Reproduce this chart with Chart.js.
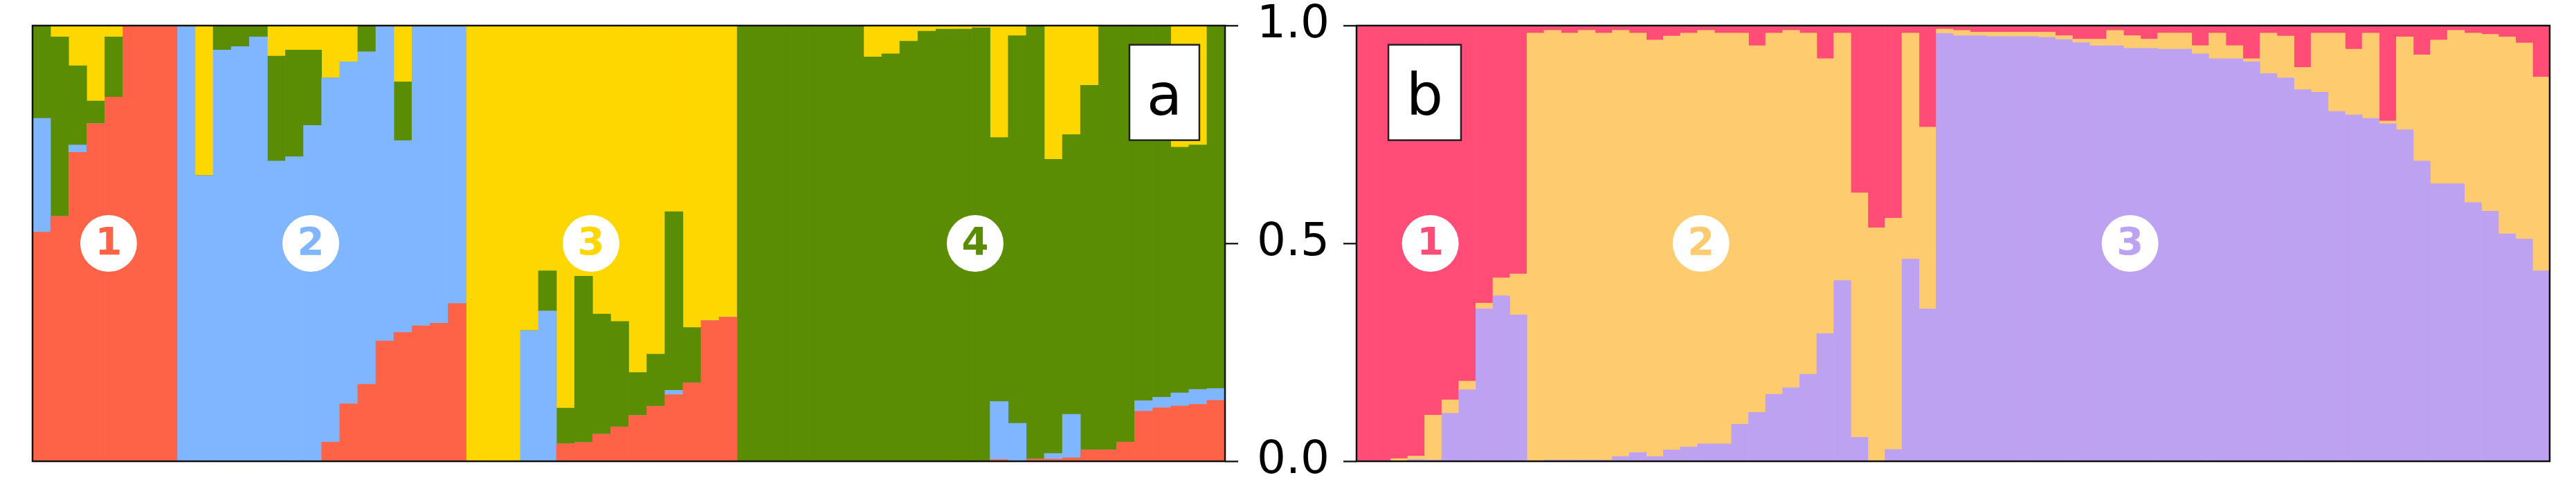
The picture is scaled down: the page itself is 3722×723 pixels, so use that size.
<!DOCTYPE html>
<html>
<head>
<meta charset="utf-8">
<script src="https://cdn.jsdelivr.net/npm/chart.js@4.4.0/dist/chart.umd.min.js"></script>
<style>
  html, body { margin: 0; padding: 0; background: #fff; }
  #lienzo { position: relative; width: 3722px; height: 723px; }
  #lienzo canvas { position: absolute; top: 0; }
  #panelA { left: 0; }
  #panelB { left: 1900px; }
</style>
</head>
<body>
<div id="lienzo">
  <canvas id="panelA" width="1960" height="723"></canvas>
  <canvas id="panelB" width="1822" height="723"></canvas>
</div>
<script>
// ─── Datos panel a (K=4) ──────────────────────────────────────────────────────
const gruposA = [8, 16, 15, 27];   // individuos por grupo
const rojoA = [
  .526, .562, .709, .775, .836, 1, 1, 1,
  0, 0, 0, 0, 0, 0, 0, 0, .044, .132, .177, .276, .296, .311, .317, .362,
  0, 0, 0, 0, 0, .04, .043, .062, .079, .105, .126, .153, .18, .323, .331,
  0, 0, 0, 0, 0, 0, 0, 0, 0, 0, 0, 0, 0, 0, .004, 0, .005, .005, .008, .026, .026, .044, .115, .123, .127, .131, .14
];
const azulA = [
  .261, 0, .017, 0, 0, 0, 0, 0,
  1, .656, .944, .952, .974, .689, .699, .771, .836, .785, .763, .724, .44, .689, .683, .638,
  0, 0, 0, .30, .345, 0, 0, 0, 0, 0, 0, .01, 0, 0, 0,
  0, 0, 0, 0, 0, 0, 0, 0, 0, 0, 0, 0, 0, 0, .133, .087, 0, .013, .1, 0, 0, 0, .024, .024, .03, .034, .027
];
const verdeA = [
  .213, .412, .182, .052, .138, 0, 0, 0,
  0, 0, .056, .048, .026, .241, .245, .173, 0, 0, .06, 0, .135, 0, 0, 0,
  0, 0, 0, 0, .092, .082, .382, .276, .242, .099, .12, .41, .127, 0, 0,
  1, 1, 1, 1, 1, 1, 1, .928, .935, .964, .987, .992, .992, .995, .606, .89, .995, .675, .642, .837, .974, .956, .861, .853, .564, .561, .833
];
const amarilloA = [
  0, .026, .092, .173, .026, 0, 0, 0,
  0, .344, 0, 0, 0, .07, .056, .056, .12, .083, 0, 0, .129, 0, 0, 0,
  1, 1, 1, .70, .563, .878, .575, .662, .679, .796, .754, .427, .693, .677, .669,
  0, 0, 0, 0, 0, 0, 0, .072, .065, .036, .013, .008, .008, .005, .257, .023, 0, .307, .25, .137, 0, 0, 0, 0, .279, .274, 0
];

// ─── Datos panel b (K=3) ──────────────────────────────────────────────────────
const gruposB = [10, 24, 36];
const moradoB = [
  0, 0, 0, .004, .003, .11, .164, .35, .38, .336,
  0, .003, .003, .003, .003, .011, .02, .011, .026, .033, .04, .04, .085, .112, .154, .169, .2, .293, .415, .055, 0, .027, .464, .35,
  .982, .977, .977, .975, .975, .975, .973, .968, .961, .954, .954, .948, .948, .946, .946, .935, .924, .924, .917, .89,
  .88, .853, .847, .803, .795, .787, .775, .761, .689, .637, .637, .594, .574, .522, .51, .437
];
const naranjaB = [
  0, 0, .006, .008, .103, .031, .02, .013, .041, .094,
  .983, .986, .98, .986, .98, .978, .963, .956, .95, .95, .949, .943, .898, .842, .829, .82, .783, .631, .568, .561, .536, .531, .519, .417,
  .01, .012, .008, .01, .01, .01, .012, .009, .008, .015, .035, .029, .021, .037, .037, .019, .059, .03, .007, .093,
  .096, .051, .136, .18, .151, .196, .006, .213, .244, .33, .352, .389, .406, .452, .45, .445
];
const rosaB = [
  1, 1, .994, .988, .894, .859, .816, .637, .579, .57,
  .017, .011, .017, .011, .017, .011, .017, .033, .024, .017, .011, .017, .017, .046, .017, .011, .017, .076, .017, .384, .464, .442, .017, .233,
  .008, .011, .015, .015, .015, .015, .015, .023, .031, .031, .011, .023, .031, .017, .017, .046, .017, .046, .076, .017,
  .024, .096, .017, .017, .054, .017, .219, .026, .067, .033, .011, .017, .02, .026, .04, .118
];

const ticksY = [0, 0.5, 1];

// Colores de cada componente
const COLORES = {
  rojo: '#FF6347', azul: '#80B6FF', verde: '#5A8C04', amarillo: '#FFD700',
  rosa: '#FF4D78', naranja: '#FFCB6F', morado: '#BEA2F2'
};

function etiquetas(grupos) {
  return grupos.flatMap((n, g) => Array.from({ length: n }, (_, i) => `G${g + 1}-${i + 1}`));
}

// ─── Plugins ──────────────────────────────────────────────────────────────────
// Marco negro alrededor del área de datos
const marco = {
  id: 'marco',
  afterDatasetsDraw(chart) {
    const { ctx, chartArea: a } = chart;
    ctx.save();
    ctx.strokeStyle = '#111';
    ctx.lineWidth = 2.5;
    ctx.strokeRect(a.left, a.top, a.right - a.left, a.bottom - a.top);
    ctx.restore();
  }
};

// Círculos numerados de cada grupo y la caja con la letra del panel
const marcas = {
  id: 'marcas',
  afterDraw(chart, args, opts) {
    const { ctx } = chart;
    const xs = chart.scales.x, ys = chart.scales.y;
    ctx.save();
    opts.circulos.forEach(c => {
      const x = xs.getPixelForValue(c.idx);
      const y = ys.getPixelForValue(0.5);
      ctx.beginPath();
      ctx.arc(x, y, 41, 0, Math.PI * 2);
      ctx.fillStyle = '#fff';
      ctx.fill();
      ctx.font = 'bold 56px "DejaVu Sans"';
      ctx.fillStyle = c.color;
      ctx.textAlign = 'center';
      ctx.textBaseline = 'middle';
      ctx.fillText(c.texto, x, y + 1);
    });
    const k = opts.caja;
    const x0 = xs.getPixelForValue(k.i0), x1 = xs.getPixelForValue(k.i1);
    const y0 = ys.getPixelForValue(k.v0), y1 = ys.getPixelForValue(k.v1);
    ctx.fillStyle = '#fff';
    ctx.fillRect(x0, y0, x1 - x0, y1 - y0);
    ctx.strokeStyle = '#222';
    ctx.lineWidth = 2.5;
    ctx.strokeRect(x0, y0, x1 - x0, y1 - y0);
    ctx.fillStyle = '#000';
    ctx.font = '84px "DejaVu Sans"';
    ctx.textAlign = 'center';
    ctx.textBaseline = 'alphabetic';
    ctx.fillText(k.letra, (x0 + x1) / 2, y1 - 37);
    ctx.restore();
  }
};

// ─── Crear panel ──────────────────────────────────────────────────────────────
function serie(label, datos, color) {
  return {
    label, data: datos, backgroundColor: color, borderWidth: 0,
    barPercentage: 1, categoryPercentage: 1
  };
}

function crearPanel(id, labels, datasets, ejeY, padding, marcasOpts) {
  return new Chart(document.getElementById(id), {
    type: 'bar',
    data: { labels, datasets },
    plugins: [marco, marcas],
    options: {
      responsive: false,
      animation: false,
      layout: { padding },
      plugins: {
        legend: { display: false },
        tooltip: { enabled: false },
        marcas: marcasOpts
      },
      scales: {
        x: { stacked: true, display: false },
        y: Object.assign({
          stacked: true, min: 0, max: 1,
          afterBuildTicks: s => { s.ticks = ticksY.map(v => ({ value: v })); },
          grid: { drawOnChartArea: false, drawTicks: true, tickLength: 19, color: '#222', lineWidth: 2.5 },
          border: { display: false }
        }, ejeY)
      }
    }
  });
}

// El eje se fija a un ancho concreto y sin relleno extra arriba/abajo
function ajustarEje(ancho) {
  return s => {
    s.width = ancho;
    s.paddingTop = 0;
    s.paddingBottom = 0;
  };
}

crearPanel('panelA', etiquetas(gruposA), [
  serie('1', rojoA, COLORES.rojo),
  serie('2', azulA, COLORES.azul),
  serie('4', verdeA, COLORES.verde),
  serie('3', amarilloA, COLORES.amarillo)
], {
  position: 'right',
  ticks: {
    color: '#000', padding: 27,
    font: { family: 'DejaVu Sans', size: 66, lineHeight: 1 },
    callback: v => Number(v).toFixed(1)
  },
  afterFit: ajustarEje(190)
}, { left: 47, top: 37, right: 0, bottom: 56 }, {
  circulos: [
    { idx: 3.71, texto: '1', color: COLORES.rojo },
    { idx: 14.9, texto: '2', color: COLORES.azul },
    { idx: 30.41, texto: '3', color: COLORES.amarillo },
    { idx: 51.67, texto: '4', color: COLORES.verde }
  ],
  caja: { i0: 60.21, i1: 64.08, v0: 0.956, v1: 0.737, letra: 'a' }
});

crearPanel('panelB', etiquetas(gruposB), [
  serie('3', moradoB, COLORES.morado),
  serie('2', naranjaB, COLORES.naranja),
  serie('1', rosaB, COLORES.rosa)
], {
  position: 'left',
  ticks: { display: false },
  afterFit: ajustarEje(60)
}, { left: 0, top: 37, right: 38, bottom: 56 }, {
  circulos: [
    { idx: 3.83, texto: '1', color: COLORES.rosa },
    { idx: 19.71, texto: '2', color: COLORES.naranja },
    { idx: 44.88, texto: '3', color: COLORES.morado }
  ],
  caja: { i0: 1.37, i1: 5.63, v0: 0.956, v1: 0.737, letra: 'b' }
});
</script>
</body>
</html>
